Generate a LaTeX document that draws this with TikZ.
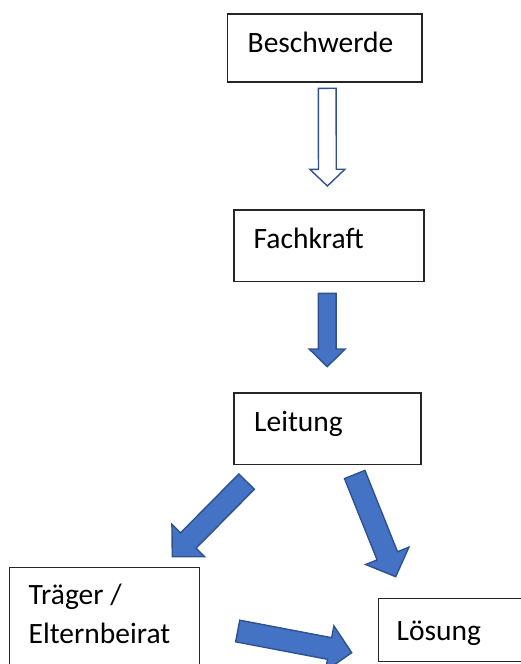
\documentclass[tikz,border=0pt]{standalone}
\usepackage{fontspec}
\setmainfont{Carlito}
\usetikzlibrary{calc}
\definecolor{arrfill}{HTML}{4472C4}
\definecolor{arredge}{HTML}{2F528F}
\tikzset{
  box/.style={draw=black!85, line width=1.3pt},
  lbl/.style={inner sep=0pt, anchor=base west, font=\fontsize{29.5}{38.5}\selectfont},
  solidarr/.style={fill=arrfill, draw=arredge, line width=1.4pt, line join=miter},
  hollowarr/.style={fill=white, draw=arredge, line width=1.4pt, line join=miter},
}
% #1 start, #2 tip, #3 half shaft width, #4 half head width, #5 head length, #6 style
\newcommand\blockarr[6]{%
  \draw[#6]
    ($(#1)!#3!90:(#2)$) --
    ($($(#2)!#5!(#1)$)!#3!90:(#2)$) --
    ($($(#2)!#5!(#1)$)!#4!90:(#2)$) --
    (#2) --
    ($($(#2)!#5!(#1)$)!#4!-90:(#2)$) --
    ($($(#2)!#5!(#1)$)!#3!-90:(#2)$) --
    ($(#1)!#3!-90:(#2)$) -- cycle;
}
\begin{document}
\begin{tikzpicture}[x=1pt, y=-1pt]
\useasboundingbox (0,0) rectangle (521,664);
\clip (0,0) rectangle (521,664);
% boxes
\draw[box] (227.5,14) rectangle (422,82);
\node[lbl] (beschwerde) at (247.5,52.3) {Beschwerde};
\draw[box] (234,210) rectangle (424,281.7);
\node[lbl] (fachkraft) at (253.5,248) {Fachkraft};
\draw[box] (234,393) rectangle (421,464.5);
\node[lbl] (leitung) at (254,431.7) {Leitung};
\draw[box] (9.5,567.5) rectangle (199.3,680);
\node[lbl, align=left, anchor=base west] (traeger) at (28.5,643) {Träger /\\Elternbeirat};
\draw[box] (378.3,598.3) rectangle (600,661.3);
\node[lbl] (loesung) at (396.5,640) {Lösung};
% arrow endpoints
\coordinate (a1s) at (327.2,88.3);  \coordinate (a1t) at (327.4,186);
\coordinate (a2s) at (327.2,293.3); \coordinate (a2t) at (327.2,366.7);
\coordinate (a3s) at (246.6,481.6); \coordinate (a3t) at (172.3,556.7);
\coordinate (a4s) at (354.7,474.5); \coordinate (a4t) at (395.7,576.7);
\coordinate (a5s) at (237.7,631);   \coordinate (a5t) at (351.7,652.7);
\blockarr{a1s}{a1t}{8.9pt}{17.5pt}{16.7pt}{hollowarr}
\blockarr{a2s}{a2t}{8.9pt}{18pt}{17.7pt}{solidarr}
\blockarr{a3s}{a3t}{10.9pt}{23pt}{22.7pt}{solidarr}
\blockarr{a4s}{a4t}{11pt}{23.3pt}{22.5pt}{solidarr}
\blockarr{a5s}{a5t}{11pt}{23pt}{22.5pt}{solidarr}
\end{tikzpicture}
\end{document}
